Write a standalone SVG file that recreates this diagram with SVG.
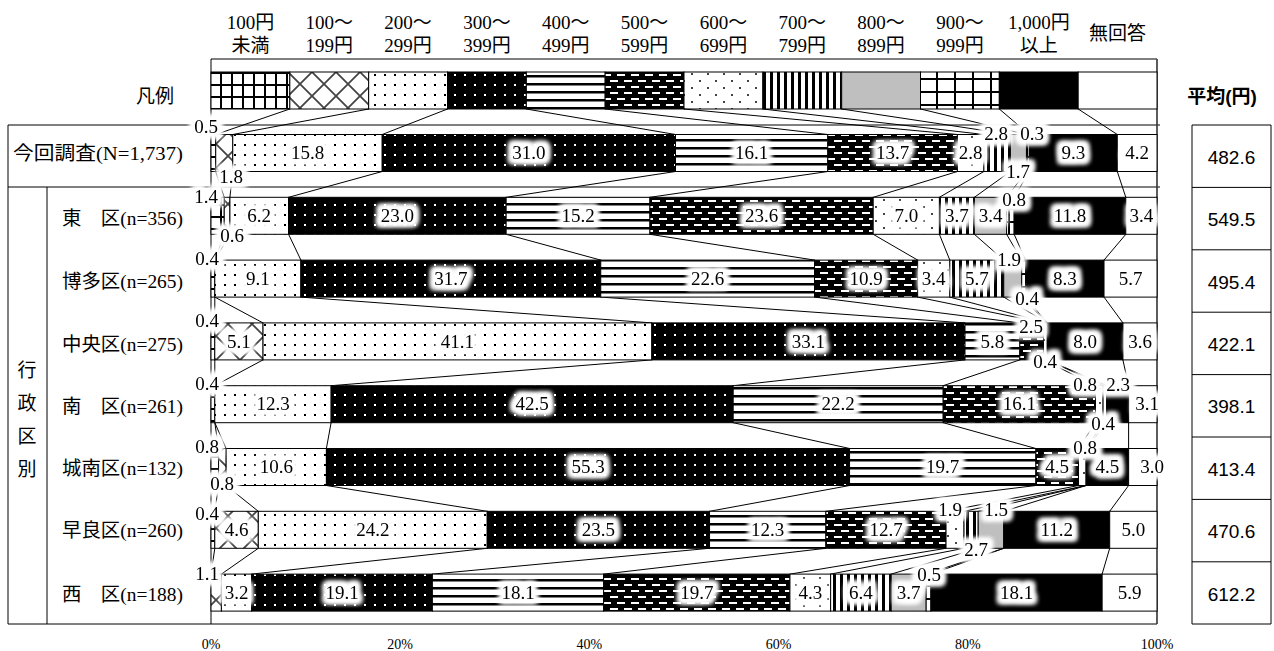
<svg xmlns="http://www.w3.org/2000/svg" width="1274" height="651" viewBox="0 0 1274 651">
<style>
.t{font-family:"Liberation Serif","Noto Sans CJK JP",serif;fill:#000}
.hd{font-size:19px;text-anchor:middle}
.lb{font-size:19px}
.v{font-size:19px;text-anchor:middle}
.ax{font-size:14px;text-anchor:middle}
.avg{font-family:"Liberation Sans","Noto Sans CJK JP",sans-serif;font-size:19px;text-anchor:middle;fill:#000}
.ttl{font-family:"Liberation Sans","Noto Sans CJK JP",sans-serif;font-size:19px;font-weight:bold;text-anchor:middle;fill:#000}
.seg rect{stroke:#000;stroke-width:1}
.ln{stroke:#000;stroke-width:1;fill:none}
.c0{fill:url(#p0)}.c1{fill:url(#p1)}.c2{fill:url(#p2)}.c3{fill:url(#p3)}.c4{fill:url(#p4)}.c5{fill:url(#p5)}
.c6{fill:url(#p6)}.c7{fill:url(#p7)}.c8{fill:#bfbfbf}.c9{fill:url(#p9)}.c10{fill:#000}.c11{fill:#fff}
</style>
<defs>
<pattern id="p0" width="11" height="12" patternUnits="userSpaceOnUse"><rect width="11" height="12" fill="#fff"/><rect width="2" height="12" fill="#000"/><rect width="11" height="2" fill="#000"/></pattern>
<pattern id="p1" width="24" height="24" patternUnits="userSpaceOnUse"><rect width="24" height="24" fill="#fff"/><path d="M0,0L24,24M24,0L0,24" stroke="#444" stroke-width="1.8" stroke-linecap="square"/></pattern>
<pattern id="p2" width="10" height="10" patternUnits="userSpaceOnUse"><rect width="10" height="10" fill="#fff"/><rect x="4" y="4" width="2" height="2" fill="#000"/></pattern>
<pattern id="p3" width="10" height="10" patternUnits="userSpaceOnUse"><rect width="10" height="10" fill="#000"/><rect x="4" y="4" width="2" height="2" fill="#fff"/></pattern>
<pattern id="p4" width="8" height="8" patternUnits="userSpaceOnUse"><rect width="8" height="8" fill="#fff"/><rect y="3" width="8" height="2.5" fill="#000"/></pattern>
<pattern id="p5" width="14" height="12" patternUnits="userSpaceOnUse"><rect width="14" height="12" fill="#000"/><rect x="1" y="2" width="8" height="2" fill="#fff"/><rect x="8" y="8" width="6" height="2" fill="#fff"/><rect x="0" y="8" width="2" height="2" fill="#fff"/></pattern>
<pattern id="p6" width="16" height="14" patternUnits="userSpaceOnUse"><rect width="16" height="14" fill="#fff"/><rect x="3" y="3" width="2" height="2" fill="#444"/><rect x="11" y="10" width="2" height="2" fill="#444"/></pattern>
<pattern id="p7" width="7" height="10" patternUnits="userSpaceOnUse"><rect width="7" height="10" fill="#fff"/><rect width="3" height="10" fill="#000"/></pattern>
<pattern id="p9" width="18" height="13" patternUnits="userSpaceOnUse"><rect width="18" height="13" fill="#fff"/><rect width="2" height="13" fill="#000"/><rect width="18" height="2" fill="#000"/></pattern>
<filter id="halo" x="-5%" y="-10%" width="110%" height="120%" color-interpolation-filters="sRGB">
<feMorphology in="SourceAlpha" operator="dilate" radius="3.5" result="d"/>
<feGaussianBlur in="d" stdDeviation="2.5" result="b"/>
<feFlood flood-color="#fff"/>
<feComposite in2="b" operator="in" result="w"/>
<feMerge><feMergeNode in="w"/><feMergeNode in="w"/><feMergeNode in="w"/><feMergeNode in="SourceGraphic"/></feMerge>
</filter>
</defs>
<rect width="1274" height="651" fill="#fff"/>

<g id="header" class="t hd">
<text x="250.4" y="29">100円</text><text x="250.4" y="52">未満</text>
<text x="329.2" y="29">100～</text><text x="329.2" y="52">199円</text>
<text x="408.1" y="29">200～</text><text x="408.1" y="52">299円</text>
<text x="486.9" y="29">300～</text><text x="486.9" y="52">399円</text>
<text x="565.7" y="29">400～</text><text x="565.7" y="52">499円</text>
<text x="644.6" y="29">500～</text><text x="644.6" y="52">599円</text>
<text x="723.4" y="29">600～</text><text x="723.4" y="52">699円</text>
<text x="802.3" y="29">700～</text><text x="802.3" y="52">799円</text>
<text x="881.1" y="29">800～</text><text x="881.1" y="52">899円</text>
<text x="959.9" y="29">900～</text><text x="959.9" y="52">999円</text>
<text x="1038.8" y="29">1,000円</text><text x="1038.8" y="52">以上</text>
<text x="1117.6" y="40">無回答</text>
</g>

<g id="frame" class="ln">
<path d="M211,59H1157M211,59V624M8,125H1160M8,187H1160M8,624H1157M8,125V624M47,187V624"/>
<path d="M1157,59V624" stroke="#333" stroke-width="1.6"/>
</g>

<g id="legend" class="seg">
<text class="t lb" x="155" y="103" text-anchor="middle">凡例</text>
<rect class="c0" x="211" y="72" width="78.83" height="37"/>
<rect class="c1" x="289.83" y="72" width="78.84" height="37"/>
<rect class="c2" x="368.67" y="72" width="78.83" height="37"/>
<rect class="c3" x="447.5" y="72" width="78.83" height="37"/>
<rect class="c4" x="526.33" y="72" width="78.84" height="37"/>
<rect class="c5" x="605.17" y="72" width="78.83" height="37"/>
<rect class="c6" x="684" y="72" width="78.83" height="37"/>
<rect class="c7" x="762.83" y="72" width="78.84" height="37"/>
<rect class="c8" x="841.67" y="72" width="78.83" height="37"/>
<rect class="c9" x="920.5" y="72" width="78.83" height="37"/>
<rect class="c10" x="999.33" y="72" width="78.84" height="37"/>
<rect class="c11" x="1078.17" y="72" width="78.83" height="37"/>
</g>

<g id="connectors" class="ln">
<path d="M289.8,109L215.7,134.5M368.7,109L232.8,134.5M447.5,109L382.2,134.5M526.3,109L675.5,134.5M605.2,109L827.8,134.5M684,109L957.4,134.5M762.8,109L983.9,134.5M841.7,109L1010.4,134.5M920.5,109L1026.5,134.5M999.3,109L1029.3,134.5M1078.2,109L1117.3,134.5"/>
<path d="M215.7,171.5L224.2,197.3M232.8,171.5L229.9,197.3M382.2,171.5L288.6,197.3M675.5,171.5L506.2,197.3M827.8,171.5L649.9,197.3M957.4,171.5L873.2,197.3M983.9,171.5L939.4,197.3M1010.4,171.5L974.4,197.3M1026.5,171.5L1006.6,197.3M1029.3,171.5L1014.2,197.3M1117.3,171.5L1125.8,197.3"/>
<path d="M224.2,234.3L214.8,260.1M229.9,234.3L214.8,260.1M288.6,234.3L300.9,260.1M506.2,234.3L600.8,260.1M649.9,234.3L814.6,260.1M873.2,234.3L917.7,260.1M939.4,234.3L949.8,260.1M974.4,234.3L1003.8,260.1M1006.6,234.3L1021.7,260.1M1014.2,234.3L1025.5,260.1M1125.8,234.3L1104,260.1"/>
<path d="M214.8,297.1L214.8,322.9M214.8,297.1L263,322.9M300.9,297.1L651.8,322.9M600.8,297.1L965,322.9M814.6,297.1L1019.8,322.9M917.7,297.1L1043.5,322.9M949.8,297.1L1047.3,322.9M1003.8,297.1L1047.3,322.9M1021.7,297.1L1047.3,322.9M1025.5,297.1L1047.3,322.9M1104,297.1L1122.9,322.9"/>
<path d="M214.8,359.9L214.8,385.7M263,359.9L214.8,385.7M651.8,359.9L331.1,385.7M965,359.9L733.2,385.7M1019.8,359.9L943.2,385.7M1043.5,359.9L1095.5,385.7M1047.3,359.9L1103.1,385.7M1047.3,359.9L1106.9,385.7M1122.9,359.9L1128.6,385.7"/>
<path d="M214.8,422.7L218.6,448.5M214.8,422.7L226.1,448.5M331.1,422.7L326.4,448.5M733.2,422.7L849.6,448.5M943.2,422.7L1035.9,448.5M1095.5,422.7L1078.5,448.5M1103.1,422.7L1086.1,448.5M1106.9,422.7L1086.1,448.5M1128.6,422.7L1128.6,448.5"/>
<path d="M218.6,485.5L214.8,511.3M226.1,485.5L258.3,511.3M326.4,485.5L487.2,511.3M849.6,485.5L709.5,511.3M1035.9,485.5L825.9,511.3M1078.5,485.5L946,511.3M1086.1,485.5L964,511.3M1086.1,485.5L978.2,511.3M1086.1,485.5L1003.8,511.3M1128.6,485.5L1109.7,511.3"/>
<path d="M214.8,548.3L211,574.1M258.3,548.3L221.4,574.1M487.2,548.3L251.7,574.1M709.5,548.3L432.4,574.1M825.9,548.3L603.6,574.1M946,548.3L790,574.1M964,548.3L830.6,574.1M978.2,548.3L891.2,574.1M1003.8,548.3L926.2,574.1M1003.8,548.3L930.9,574.1M1109.7,548.3L1102.1,574.1"/>
</g>

<g id="bar-total" class="seg">
<rect class="c0" x="211" y="134.5" width="4.73" height="37"/>
<rect class="c1" x="215.73" y="134.5" width="17.03" height="37"/>
<rect class="c2" x="232.76" y="134.5" width="149.47" height="37"/>
<rect class="c3" x="382.23" y="134.5" width="293.26" height="37"/>
<rect class="c4" x="675.49" y="134.5" width="152.3" height="37"/>
<rect class="c5" x="827.79" y="134.5" width="129.6" height="37"/>
<rect class="c6" x="957.39" y="134.5" width="26.49" height="37"/>
<rect class="c7" x="983.88" y="134.5" width="26.49" height="37"/>
<rect class="c8" x="1010.37" y="134.5" width="16.08" height="37"/>
<rect class="c9" x="1026.45" y="134.5" width="2.84" height="37"/>
<rect class="c10" x="1029.29" y="134.5" width="87.98" height="37"/>
<rect class="c11" x="1117.27" y="134.5" width="39.73" height="37"/>
</g>
<g id="bar-higashi" class="seg">
<rect class="c0" x="211" y="197.3" width="13.24" height="37"/>
<rect class="c1" x="224.24" y="197.3" width="5.68" height="37"/>
<rect class="c2" x="229.92" y="197.3" width="58.65" height="37"/>
<rect class="c3" x="288.57" y="197.3" width="217.58" height="37"/>
<rect class="c4" x="506.15" y="197.3" width="143.79" height="37"/>
<rect class="c5" x="649.94" y="197.3" width="223.26" height="37"/>
<rect class="c6" x="873.2" y="197.3" width="66.22" height="37"/>
<rect class="c7" x="939.42" y="197.3" width="35" height="37"/>
<rect class="c8" x="974.42" y="197.3" width="32.17" height="37"/>
<rect class="c9" x="1006.59" y="197.3" width="7.56" height="37"/>
<rect class="c10" x="1014.15" y="197.3" width="111.63" height="37"/>
<rect class="c11" x="1125.78" y="197.3" width="31.22" height="37"/>
</g>
<g id="bar-hakata" class="seg">
<rect class="c0" x="211" y="260.1" width="3.78" height="37"/>
<rect class="c2" x="214.78" y="260.1" width="86.09" height="37"/>
<rect class="c3" x="300.87" y="260.1" width="299.88" height="37"/>
<rect class="c4" x="600.75" y="260.1" width="213.8" height="37"/>
<rect class="c5" x="814.55" y="260.1" width="103.11" height="37"/>
<rect class="c6" x="917.66" y="260.1" width="32.17" height="37"/>
<rect class="c7" x="949.83" y="260.1" width="53.92" height="37"/>
<rect class="c8" x="1003.75" y="260.1" width="17.97" height="37"/>
<rect class="c9" x="1021.72" y="260.1" width="3.79" height="37"/>
<rect class="c10" x="1025.51" y="260.1" width="78.51" height="37"/>
<rect class="c11" x="1104.02" y="260.1" width="52.98" height="37"/>
</g>
<g id="bar-chuo" class="seg">
<rect class="c0" x="211" y="322.9" width="3.78" height="37"/>
<rect class="c1" x="214.78" y="322.9" width="48.25" height="37"/>
<rect class="c2" x="263.03" y="322.9" width="388.81" height="37"/>
<rect class="c3" x="651.84" y="322.9" width="313.16" height="37"/>
<rect class="c4" x="965" y="322.9" width="54.83" height="37"/>
<rect class="c5" x="1019.83" y="322.9" width="23.65" height="37"/>
<rect class="c6" x="1043.48" y="322.9" width="3.78" height="37"/>
<rect class="c10" x="1047.26" y="322.9" width="75.68" height="37"/>
<rect class="c11" x="1122.94" y="322.9" width="34.06" height="37"/>
</g>
<g id="bar-minami" class="seg">
<rect class="c0" x="211" y="385.7" width="3.78" height="37"/>
<rect class="c2" x="214.78" y="385.7" width="116.36" height="37"/>
<rect class="c3" x="331.14" y="385.7" width="402.05" height="37"/>
<rect class="c4" x="733.19" y="385.7" width="210.01" height="37"/>
<rect class="c5" x="943.2" y="385.7" width="152.31" height="37"/>
<rect class="c6" x="1095.51" y="385.7" width="7.57" height="37"/>
<rect class="c7" x="1103.08" y="385.7" width="3.78" height="37"/>
<rect class="c10" x="1106.86" y="385.7" width="21.76" height="37"/>
<rect class="c11" x="1128.62" y="385.7" width="28.38" height="37"/>
</g>
<g id="bar-jonan" class="seg">
<rect class="c0" x="211" y="448.5" width="7.57" height="37"/>
<rect class="c1" x="218.57" y="448.5" width="7.57" height="37"/>
<rect class="c2" x="226.14" y="448.5" width="100.27" height="37"/>
<rect class="c3" x="326.41" y="448.5" width="523.14" height="37"/>
<rect class="c4" x="849.55" y="448.5" width="186.36" height="37"/>
<rect class="c5" x="1035.91" y="448.5" width="42.57" height="37"/>
<rect class="c6" x="1078.48" y="448.5" width="7.57" height="37"/>
<rect class="c10" x="1086.05" y="448.5" width="42.57" height="37"/>
<rect class="c11" x="1128.62" y="448.5" width="28.38" height="37"/>
</g>
<g id="bar-sawara" class="seg">
<rect class="c0" x="211" y="511.3" width="3.78" height="37"/>
<rect class="c1" x="214.78" y="511.3" width="43.52" height="37"/>
<rect class="c2" x="258.3" y="511.3" width="228.93" height="37"/>
<rect class="c3" x="487.23" y="511.3" width="222.31" height="37"/>
<rect class="c4" x="709.54" y="511.3" width="116.36" height="37"/>
<rect class="c5" x="825.9" y="511.3" width="120.14" height="37"/>
<rect class="c6" x="946.04" y="511.3" width="17.98" height="37"/>
<rect class="c7" x="964.02" y="511.3" width="14.19" height="37"/>
<rect class="c8" x="978.21" y="511.3" width="25.54" height="37"/>
<rect class="c10" x="1003.75" y="511.3" width="105.95" height="37"/>
<rect class="c11" x="1109.7" y="511.3" width="47.3" height="37"/>
</g>
<g id="bar-nishi" class="seg">
<rect class="c1" x="211" y="574.1" width="10.41" height="37"/>
<rect class="c2" x="221.41" y="574.1" width="30.27" height="37"/>
<rect class="c3" x="251.68" y="574.1" width="180.68" height="37"/>
<rect class="c4" x="432.36" y="574.1" width="171.23" height="37"/>
<rect class="c5" x="603.59" y="574.1" width="186.36" height="37"/>
<rect class="c6" x="789.95" y="574.1" width="40.68" height="37"/>
<rect class="c7" x="830.63" y="574.1" width="60.54" height="37"/>
<rect class="c8" x="891.17" y="574.1" width="35.01" height="37"/>
<rect class="c9" x="926.18" y="574.1" width="4.73" height="37"/>
<rect class="c10" x="930.91" y="574.1" width="171.22" height="37"/>
<rect class="c11" x="1102.13" y="574.1" width="54.87" height="37"/>
</g>

<g id="row-labels" class="t lb">
<text x="13" y="159.5" textLength="170" lengthAdjust="spacingAndGlyphs">今回調査(N=1,737)</text>
<text x="62" y="225" textLength="121" lengthAdjust="spacingAndGlyphs">東　区(n=356)</text>
<text x="62" y="288" textLength="121" lengthAdjust="spacingAndGlyphs">博多区(n=265)</text>
<text x="62" y="351" textLength="121" lengthAdjust="spacingAndGlyphs">中央区(n=275)</text>
<text x="62" y="413" textLength="121" lengthAdjust="spacingAndGlyphs">南　区(n=261)</text>
<text x="62" y="475" textLength="121" lengthAdjust="spacingAndGlyphs">城南区(n=132)</text>
<text x="62" y="537" textLength="121" lengthAdjust="spacingAndGlyphs">早良区(n=260)</text>
<text x="62" y="601" textLength="121" lengthAdjust="spacingAndGlyphs">西　区(n=188)</text>
<g text-anchor="middle">
<text x="27" y="377">行</text><text x="27" y="410">政</text><text x="27" y="443">区</text><text x="27" y="476">別</text>
</g>
</g>

<g id="values" class="t v" filter="url(#halo)">
<text x="206" y="133">0.5</text><text x="231" y="183">1.8</text>
<text x="307.5" y="159">15.8</text><text x="528.9" y="159">31.0</text><text x="751.6" y="159">16.1</text><text x="892.6" y="159">13.7</text><text x="970.6" y="159">2.8</text><text x="1073.3" y="159">9.3</text><text x="1137.1" y="159">4.2</text>
<text x="996" y="140">2.8</text><text x="1018" y="178">1.7</text><text x="1032" y="140">0.3</text>

<text x="206" y="203">1.4</text><text x="232" y="242">0.6</text>
<text x="259.2" y="222">6.2</text><text x="397.4" y="222">23.0</text><text x="578" y="222">15.2</text><text x="761.6" y="222">23.6</text><text x="906.3" y="222">7.0</text><text x="956.9" y="222">3.7</text><text x="990.5" y="222">3.4</text><text x="1070" y="222">11.8</text><text x="1141.4" y="222">3.4</text>
<text x="1014" y="206">0.8</text>

<text x="207" y="265">0.4</text>
<text x="257.8" y="285">9.1</text><text x="450.8" y="285">31.7</text><text x="707.7" y="285">22.6</text><text x="866.1" y="285">10.9</text><text x="933.7" y="285">3.4</text><text x="976.8" y="285">5.7</text><text x="1064.8" y="285">8.3</text><text x="1130.5" y="285">5.7</text>
<text x="1009" y="266">1.9</text><text x="1027" y="305">0.4</text>

<text x="207" y="327">0.4</text>
<text x="238.9" y="347.5">5.1</text><text x="457.4" y="347.5">41.1</text><text x="808.4" y="347.5">33.1</text><text x="992.4" y="347.5">5.8</text><text x="1085.1" y="347.5">8.0</text><text x="1140" y="347.5">3.6</text>
<text x="1031" y="333">2.5</text><text x="1045" y="368">0.4</text>

<text x="207" y="390">0.4</text>
<text x="273" y="410">12.3</text><text x="532.2" y="410">42.5</text><text x="838.2" y="410">22.2</text><text x="1019.4" y="410">16.1</text><text x="1147" y="410">3.1</text>
<text x="1085" y="391">0.8</text><text x="1118" y="391">2.3</text><text x="1103" y="430">0.4</text>

<text x="207" y="453">0.8</text><text x="222" y="490">0.8</text>
<text x="276.3" y="473">10.6</text><text x="588" y="473">55.3</text><text x="942.7" y="473">19.7</text><text x="1057.2" y="473">4.5</text><text x="1107.3" y="473">4.5</text><text x="1152" y="473">3.0</text>
<text x="1085" y="454">0.8</text>

<text x="207" y="520">0.4</text>
<text x="236.5" y="536">4.6</text><text x="372.8" y="536">24.2</text><text x="598.4" y="536">23.5</text><text x="767.7" y="536">12.3</text><text x="886" y="536">12.7</text><text x="1056.7" y="536">11.2</text><text x="1133.4" y="536">5.0</text>
<text x="950" y="516">1.9</text><text x="996" y="516">1.5</text><text x="976" y="556">2.7</text>

<text x="207" y="580">1.1</text>
<text x="236.5" y="599">3.2</text><text x="342" y="599">19.1</text><text x="518" y="599">18.1</text><text x="696.8" y="599">19.7</text><text x="810.3" y="599">4.3</text><text x="860.9" y="599">6.4</text><text x="908.7" y="599">3.7</text><text x="1016.5" y="599">18.1</text><text x="1129.6" y="599">5.9</text>
<text x="929" y="581">0.5</text>
</g>

<g id="axis" class="t ax">
<text x="211" y="649">0%</text><text x="400.2" y="649">20%</text><text x="589.4" y="649">40%</text><text x="778.6" y="649">60%</text><text x="967.8" y="649">80%</text><text x="1157" y="649">100%</text>
</g>

<g id="average">
<text class="ttl" x="1222" y="103">平均(円)</text>
<path class="ln" d="M1192,125H1271V624H1192ZM1192,187.4H1271M1192,249.8H1271M1192,312.2H1271M1192,374.6H1271M1192,437H1271M1192,499.4H1271M1192,561.8H1271"/>
<text class="avg" x="1231.5" y="163.5">482.6</text>
<text class="avg" x="1231.5" y="226">549.5</text>
<text class="avg" x="1231.5" y="288.5">495.4</text>
<text class="avg" x="1231.5" y="351">422.1</text>
<text class="avg" x="1231.5" y="413">398.1</text>
<text class="avg" x="1231.5" y="475.5">413.4</text>
<text class="avg" x="1231.5" y="538">470.6</text>
<text class="avg" x="1231.5" y="600.5">612.2</text>
</g>
</svg>
